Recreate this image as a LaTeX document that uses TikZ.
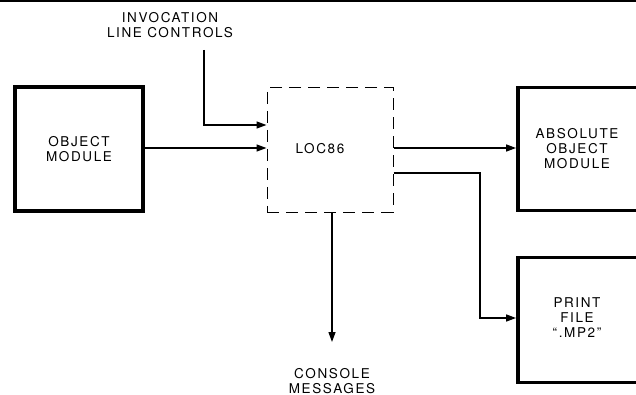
\documentclass[tikz,border=0pt]{standalone}
\usepackage{fontspec}
\setmainfont{TeX Gyre Heros}[LetterSpace=12]
\usetikzlibrary{arrows.meta}
\begin{document}
\begin{tikzpicture}[x=1pt,y=-1pt,
  lbl/.style={font=\fontsize{13.5}{15}\selectfont, align=center, inner sep=0pt},
  thickbox/.style={draw, line width=3.8pt, inner sep=0pt},
  dashbox/.style={draw, line width=1pt, dash pattern=on 12pt off 7pt, inner sep=0pt},
  conn/.style={line width=1.3pt, -{Triangle[length=10pt,width=7pt]}}
]
\useasboundingbox (0,0) rectangle (636,395);
\clip (0,0) rectangle (636,395);
\draw[line width=1.5pt] (0,1) -- (636,1);
% boxes
\node[thickbox, minimum width=128pt, minimum height=124pt] (obj) at (79,149) {};
\node[lbl] at (obj.center) {OBJECT\\MODULE};
\node[dashbox, minimum width=126pt, minimum height=124pt] (loc) at (330,150) {};
\node[lbl] at (320,149) {LOC86};
\node[thickbox, minimum width=140pt, minimum height=123pt] (abs) at (588,149) {};
\node[lbl] at (577,149) {ABSOLUTE\\OBJECT\\MODULE};
\node[thickbox, minimum width=140pt, minimum height=125pt] (prt) at (588,320) {};
\node[lbl] at (577,318) {PRINT\\FILE\\``.MP2''};
% labels
\node[lbl] (inv) at (170,25) {INVOCATION\\LINE CONTROLS};
\node[lbl] (con) at (332,381) {CONSOLE\\MESSAGES};
\coordinate (invtop) at (204,50);
\coordinate (contip) at (332,342);
% connectors
\draw[conn] (invtop) |- (loc.west |- 0,125);
\draw[conn] (obj.east |- 0,148) -- (loc.west |- 0,148);
\draw[conn] (loc.east |- 0,148) -- (abs.west |- 0,148);
\draw[conn] (loc.east |- 0,173) -- (480,173) |- (prt.west |- 0,318);
\draw[conn] (loc.south -| contip) -- (contip);
\end{tikzpicture}
\end{document}
